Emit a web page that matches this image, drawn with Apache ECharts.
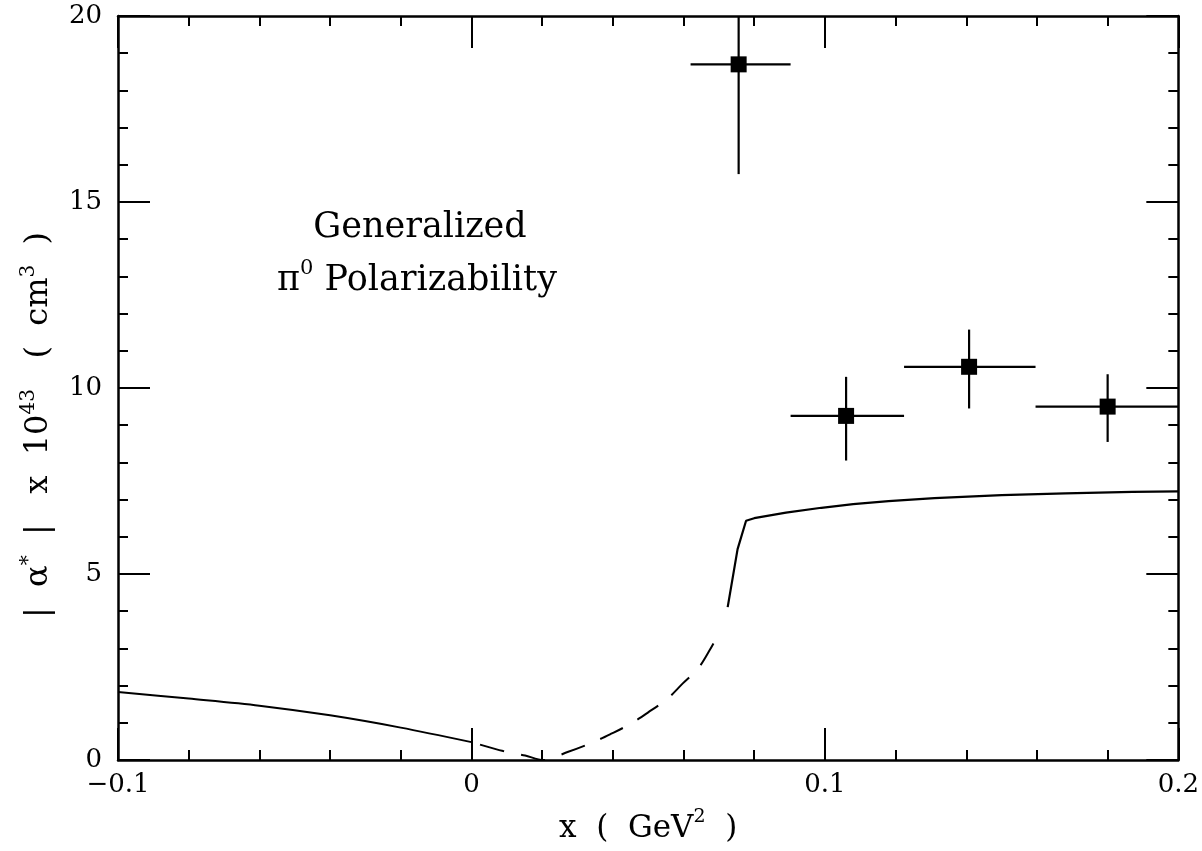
<!DOCTYPE html>
<html>
<head>
<meta charset="utf-8">
<title>Generalized pi0 polarizability</title>
<script src="https://cdn.jsdelivr.net/npm/echarts@6/dist/echarts.min.js"></script>
<style>
	html, body { margin: 0; padding: 0; background: #fff; }
	#chart { width: 1202px; height: 851px; }
</style>
</head>
<body>
<div id="chart"></div>
<script>
// measured points: centre, x range, y range
var ptX = [0.0756, 0.106, 0.1408, 0.180];
var ptY = [18.7, 9.25, 10.57, 9.5];
var ptXLo = [0.062, 0.0903, 0.1224, 0.1596];
var ptXHi = [0.0903, 0.1224, 0.1596, 0.2];
var ptYLo = [15.75, 8.05, 9.45, 8.55];
var ptYHi = [21.65, 10.3, 11.57, 10.37];

// theory curve, three pieces (solid / dashed / solid)
var leftX = [-0.1, -0.08, -0.06, -0.04, -0.02, 0];
var leftY = [1.83, 1.65, 1.46, 1.2, 0.87, 0.48];
var dashX = [0, 0.009, 0.0152, 0.0203, 0.0274, 0.034, 0.0394, 0.045, 0.050, 0.0555, 0.0598, 0.0642, 0.0675, 0.0701];
var dashY = [0.48, 0.24, 0.12, 0.0, 0.22, 0.46, 0.70, 0.97, 1.28, 1.65, 2.06, 2.47, 2.97, 3.42];
var rightX = [0.0725, 0.0753, 0.0777, 0.080, 0.089, 0.099, 0.108, 0.118, 0.131, 0.150, 0.168, 0.187, 0.2];
var rightY = [4.11, 5.67, 6.43, 6.50, 6.65, 6.78, 6.88, 6.96, 7.04, 7.12, 7.17, 7.21, 7.22];

var xTicks = { min: -0.1, max: 0.2, step: 0.1 };
var yTicks = { min: 0, max: 20, step: 5 };

var FONT = 'DejaVu Serif';

function pairs(xs, ys) {
	return xs.map(function(x, i) {
		return [x, ys[i]];
	});
}

var errData = ptX.map(function(x, i) {
	return [x, ptY[i], ptXLo[i], ptXHi[i], ptYLo[i], ptYHi[i]];
});

var renderErr = function(params, api) {
	var x = api.value(0),
		y = api.value(1);
	var xl = api.coord([api.value(2), y]);
	var xr = api.coord([api.value(3), y]);
	var yb = api.coord([x, api.value(4)]);
	var yt = api.coord([x, Math.min(api.value(5), yTicks.max)]);
	var st = { stroke: '#000', lineWidth: 2.2 };
	return {
		type: 'group',
		children: [{
			type: 'line',
			shape: { x1: xl[0], y1: xl[1], x2: xr[0], y2: xr[1] },
			style: st
		}, {
			type: 'line',
			shape: { x1: yb[0], y1: yb[1], x2: yt[0], y2: yt[1] },
			style: st
		}]
	};
};

var axisBase = function(showLabel, isX) {
	return {
		type: 'value',
		min: isX ? xTicks.min : yTicks.min,
		max: isX ? xTicks.max : yTicks.max,
		interval: isX ? xTicks.step : yTicks.step,
		axisLine: { show: true, onZero: false, lineStyle: { color: '#000', width: 2.5 } },
		axisTick: { show: true, inside: true, length: 32, lineStyle: { color: '#000', width: 2 } },
		minorTick: { show: true, splitNumber: 5, length: 10, lineStyle: { color: '#000', width: 2 } },
		splitLine: { show: false },
		minorSplitLine: { show: false },
		axisLabel: {
			show: showLabel,
			color: '#000',
			fontFamily: FONT,
			fontSize: 26,
			margin: isX ? 12 : 16,
			formatter: function(v) {
				var s = String(Math.round(v * 1000) / 1000);
				return s.replace('-', '\u2212');
			}
		}
	};
};

var xBottom = axisBase(true, true);
xBottom.position = 'bottom';
xBottom.name = '{n|x  (  GeV}{s|2}{n|  )}';
xBottom.nameLocation = 'middle';
xBottom.nameGap = 48;
xBottom.nameTextStyle = {
	rich: {
		n: { fontFamily: FONT, fontSize: 31, color: '#000', lineHeight: 36, verticalAlign: 'bottom' },
		s: { fontFamily: FONT, fontSize: 19, color: '#000', lineHeight: 36, verticalAlign: 'top' }
	}
};
var xTop = axisBase(false, true);
xTop.position = 'top';
var yLeft = axisBase(true, false);
yLeft.position = 'left';
var yRight = axisBase(false, false);
yRight.position = 'right';

var chart = echarts.init(document.getElementById('chart'));

var option = {
	animation: false,
	backgroundColor: '#fff',
	grid: { left: 118, right: 22, top: 16, bottom: 91 },
	xAxis: [xBottom, xTop],
	yAxis: [yLeft, yRight],
	graphic: [{
		type: 'text',
		x: 37,
		y: 425,
		rotation: Math.PI / 2,
		style: {
			text: '{n||  \u03b1}{s|*}{n|  |   x  10}{s|43}{n|   (  cm}{s|3}{n|  )}',
			align: 'center',
			verticalAlign: 'middle',
			rich: {
				n: { fontFamily: FONT, fontSize: 32, fill: '#000', lineHeight: 36, verticalAlign: 'bottom' },
				s: { fontFamily: FONT, fontSize: 20, fill: '#000', lineHeight: 36, verticalAlign: 'top' }
			}
		}
	}, {
		type: 'text',
		x: 420,
		y: 228,
		style: {
			text: 'Generalized',
			fontFamily: FONT,
			fontSize: 35,
			fill: '#000',
			align: 'center',
			verticalAlign: 'middle'
		}
	}, {
		type: 'text',
		x: 417,
		y: 278,
		style: {
			text: '{n|\u03c0}{s|0}{n| Polarizability}',
			align: 'center',
			verticalAlign: 'middle',
			rich: {
				n: { fontFamily: FONT, fontSize: 35, fill: '#000', lineHeight: 40, verticalAlign: 'bottom' },
				s: { fontFamily: FONT, fontSize: 21, fill: '#000', lineHeight: 40, verticalAlign: 'top' }
			}
		}
	}],
	series: [{
		type: 'line',
		data: pairs(leftX, leftY),
		showSymbol: false,
		smooth: 0.3,
		lineStyle: { color: '#000', width: 2 }
	}, {
		type: 'line',
		data: pairs(dashX, dashY),
		showSymbol: false,
		smooth: 0.3,
		lineStyle: { color: '#000', width: 2, type: [25, 17], dashOffset: 33 }
	}, {
		type: 'line',
		data: pairs(rightX, rightY),
		showSymbol: false,
		smooth: false,
		lineStyle: { color: '#000', width: 2.2 }
	}, {
		type: 'custom',
		renderItem: renderErr,
		data: errData,
		z: 3
	}, {
		type: 'scatter',
		data: pairs(ptX, ptY),
		symbol: 'rect',
		symbolSize: 16,
		itemStyle: { color: '#000', opacity: 1 },
		z: 4
	}]
};

chart.setOption(option);
</script>
</body>
</html>
